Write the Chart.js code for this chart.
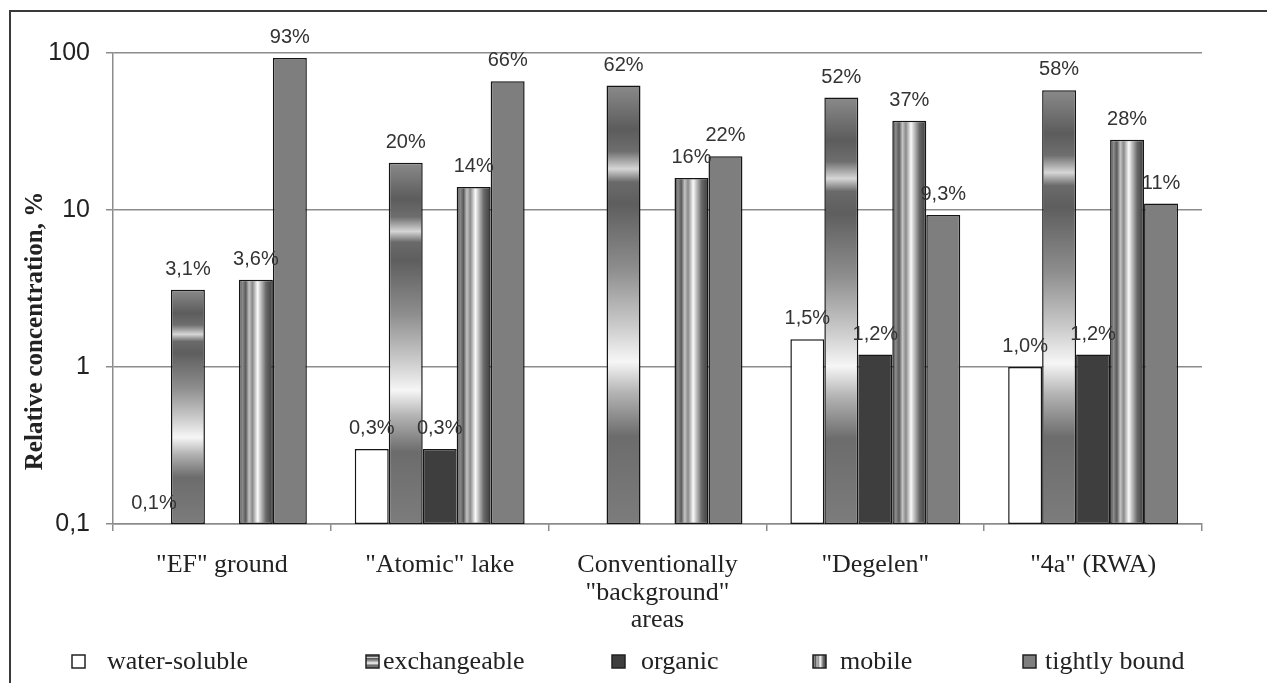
<!DOCTYPE html>
<html>
<head>
<meta charset="utf-8">
<script src="https://cdn.jsdelivr.net/npm/chart.js@4.4.1/dist/chart.umd.min.js"></script>
<style>
    html, body { margin: 0; padding: 0; background: #fff; overflow: hidden; }
    #wrap { position: relative; width: 1267px; height: 683px; }
    #frame { position: absolute; left: 9px; top: 10px; width: 1300px; height: 700px;
             border-top: 2px solid #3a3a3a; border-left: 2px solid #3a3a3a; }
    #chart { position: absolute; left: 0; top: 0; }
</style>
</head>
<body>
<div id="wrap">
    <div id="frame"></div>
    <canvas id="chart" width="1267" height="683"></canvas>
</div>
<script>
// Data (relative concentration, %)
const categories = [['"EF" ground'], ['"Atomic" lake'], ['Conventionally', '"background"', 'areas'], ['"Degelen"'], ['"4a" (RWA)']];
const seriesNames = ['water-soluble', 'exchangeable', 'organic', 'mobile', 'tightly bound'];
const waterSoluble = [0.1, 0.3, null, 1.5, 1.0];
const exchangeable = [3.1, 20, 62, 52, 58];
const organic = [null, 0.3, null, 1.2, 1.2];
const mobile = [3.6, 14, 16, 37, 28];
const tightlyBound = [93, 66, 22, 9.3, 11];
const yTicks = [0.1, 1, 10, 100];

const CAT_PCT = 0.78;
const SANS = '"Liberation Sans", Arial, sans-serif';
const SERIF = '"Liberation Serif", "Times New Roman", serif';

// Legend layout (box left, text left) as in the original
const legendBoxX = [72, 366, 612, 813, 1023];
const legendTextX = [107, 383, 641, 840, 1045];
const LEGEND_Y = 662;

// Format like the original: decimal comma, one decimal below 10
function fmt(v) {
    return (v < 10 ? v.toFixed(1) : v.toFixed(0)).replace('.', ',');
}

function chromeVertical(ctx, top, bottom) {
    const g = ctx.createLinearGradient(0, top, 0, bottom);
    g.addColorStop(0.00, '#8a8a8a');
    g.addColorStop(0.10, '#5c5c5c');
    g.addColorStop(0.15, '#6e6e6e');
    g.addColorStop(0.19, '#d6d6d6');
    g.addColorStop(0.22, '#6a6a6a');
    g.addColorStop(0.27, '#5e5e5e');
    g.addColorStop(0.42, '#8e8e8e');
    g.addColorStop(0.55, '#cccccc');
    g.addColorStop(0.63, '#f6f6f6');
    g.addColorStop(0.70, '#b4b4b4');
    g.addColorStop(0.80, '#6c6c6c');
    g.addColorStop(1.00, '#7c7c7c');
    return g;
}

function chromeHorizontal(ctx, left, right) {
    const g = ctx.createLinearGradient(left, 0, right, 0);
    g.addColorStop(0.00, '#3c3c3c');
    g.addColorStop(0.10, '#8c8c8c');
    g.addColorStop(0.20, '#5a5a5a');
    g.addColorStop(0.30, '#c4c4c4');
    g.addColorStop(0.40, '#8a8a8a');
    g.addColorStop(0.55, '#fafafa');
    g.addColorStop(0.66, '#b8b8b8');
    g.addColorStop(0.80, '#686868');
    g.addColorStop(1.00, '#3c3c3c');
    return g;
}

/**
 * Vertical chrome gradient for the exchangeable bars, stretched over each bar
 */
function exchangeableFill(context) {
    const chart = context.chart;
    if (!chart.chartArea || context.raw == null) return '#8a8a8a';
    const y = chart.scales.y;
    const top = y.getPixelForValue(context.raw);
    if (y.bottom - top < 1) return '#8a8a8a';
    return chromeVertical(chart.ctx, top, y.bottom);
}

/**
 * Horizontal chrome gradient for the mobile bars, across each bar's width
 */
function mobileFill(context) {
    const chart = context.chart;
    if (!chart.chartArea || context.dataIndex == null) return '#b0b0b0';
    const x = chart.scales.x;
    const slot = (x.width / categories.length) * CAT_PCT / seriesNames.length;
    const cx = x.getPixelForValue(context.dataIndex) + (context.datasetIndex - 2) * slot;
    return chromeHorizontal(chart.ctx, cx - slot / 2, cx + slot / 2);
}

// Percentage labels above each bar
const valueLabels = {
    id: 'valueLabels',
    afterDatasetsDraw(chart) {
        const ctx = chart.ctx;
        ctx.save();
        ctx.font = '20px ' + SANS;
        ctx.fillStyle = '#333';
        ctx.textAlign = 'center';
        ctx.textBaseline = 'alphabetic';
        chart.data.datasets.forEach((ds, di) => {
            chart.getDatasetMeta(di).data.forEach((bar, i) => {
                const v = ds.data[i];
                if (v == null) return;
                ctx.fillText(fmt(v) + '%', bar.x, bar.y - 15);
            });
        });
        ctx.restore();
    }
};

// Rotated bold y-axis title and the spread-out legend row of the original
const annotations = {
    id: 'annotations',
    afterDraw(chart) {
        const ctx = chart.ctx;
        ctx.save();
        ctx.translate(36, 331);
        ctx.rotate(-Math.PI / 2);
        ctx.font = 'bold 25px ' + SERIF;
        ctx.fillStyle = '#222';
        ctx.textAlign = 'center';
        ctx.textBaseline = 'middle';
        ctx.fillText('Relative concentration, %', 0, 0);
        ctx.restore();

        ctx.save();
        ctx.font = '26px ' + SERIF;
        ctx.textBaseline = 'middle';
        chart.data.datasets.forEach((ds, i) => {
            const bx = legendBoxX[i], by = LEGEND_Y - 7, s = 13;
            let fill = ds.backgroundColor;
            if (typeof fill === 'function') {
                fill = i === 1 ? chromeVertical(ctx, by, by + s) : chromeHorizontal(ctx, bx, bx + s);
            }
            ctx.fillStyle = fill;
            ctx.fillRect(bx, by, s, s);
            ctx.strokeStyle = '#222';
            ctx.lineWidth = 1.5;
            ctx.strokeRect(bx, by, s, s);
            ctx.fillStyle = '#222';
            ctx.fillText(ds.label, legendTextX[i], LEGEND_Y);
        });
        ctx.restore();
    }
};

const common = { borderColor: '#151515', borderWidth: 1.5, borderSkipped: false,
                 categoryPercentage: CAT_PCT, barPercentage: 1 };

new Chart(document.getElementById('chart'), {
    type: 'bar',
    data: {
        labels: categories,
        datasets: [
            { label: seriesNames[0], data: waterSoluble, backgroundColor: '#ffffff', ...common },
            { label: seriesNames[1], data: exchangeable, backgroundColor: exchangeableFill, ...common },
            { label: seriesNames[2], data: organic, backgroundColor: '#3e3e3e', ...common },
            { label: seriesNames[3], data: mobile, backgroundColor: mobileFill, ...common },
            { label: seriesNames[4], data: tightlyBound, backgroundColor: '#7e7e7e', ...common }
        ]
    },
    options: {
        responsive: false,
        animation: false,
        layout: { padding: { left: 0, right: 65, top: 53, bottom: 29 } },
        plugins: {
            tooltip: { enabled: false },
            legend: { display: false }
        },
        scales: {
            x: {
                grid: { offset: true, drawOnChartArea: false, tickLength: 7, color: '#8c8c8c', lineWidth: 1.5 },
                border: { color: '#8c8c8c', width: 1.5 },
                ticks: {
                    font: { family: SERIF, size: 26, lineHeight: 1.05 },
                    color: '#222',
                    padding: 21,
                    maxRotation: 0,
                    autoSkip: false
                },
                afterFit: s => { s.height = 130; }
            },
            y: {
                type: 'logarithmic',
                min: 0.1,
                max: 100,
                afterBuildTicks: s => { s.ticks = yTicks.map(v => ({ value: v })); },
                grid: { color: '#8c8c8c', lineWidth: 1.5, tickLength: 7 },
                border: { color: '#8c8c8c', width: 1.5 },
                ticks: {
                    font: { family: SANS, size: 25 },
                    color: '#222',
                    padding: 16,
                    callback: v => String(v).replace('.', ',')
                },
                afterFit: s => { s.width = 113; }
            }
        }
    },
    plugins: [valueLabels, annotations]
});
</script>
</body>
</html>
